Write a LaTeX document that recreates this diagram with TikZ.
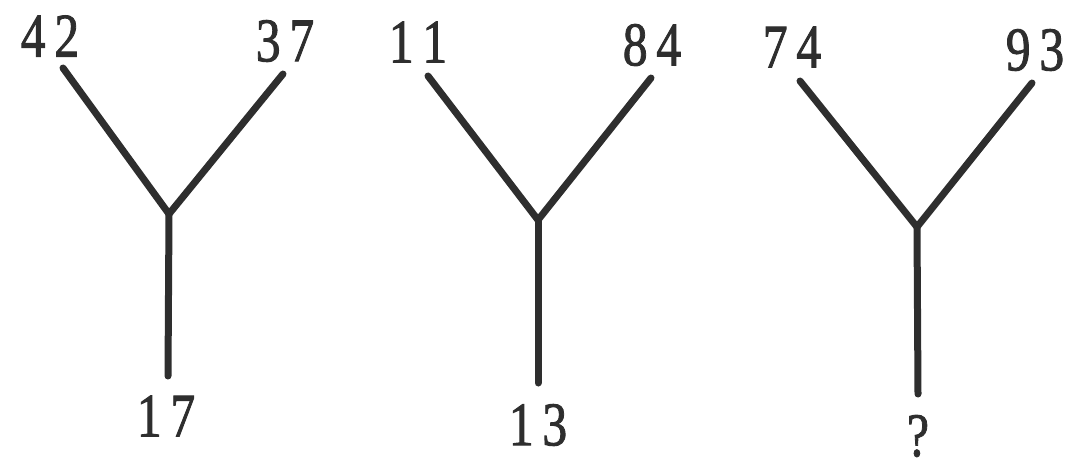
\documentclass[tikz,border=0pt]{standalone}
\usepackage{fontspec}
\setmainfont{Liberation Serif}
\newfontfamily\numfont[FakeBold=1.6]{Liberation Serif}
\definecolor{ink}{HTML}{2E2E2E}
\begin{document}
\begin{tikzpicture}[x=1pt,y=-1pt,
  num/.style={inner sep=0pt, text=ink, font=\fontsize{62}{62}\numfont, xscale=0.8},
  arm/.style={draw=ink, line width=7pt, line cap=round}]
\useasboundingbox (0,0) rectangle (1068,469);
% first Y
\node[num] (t1) at (50,36) {4\kern11pt2};
\node[num] (u1) at (285,41) {3\kern11pt7};
\node[num] (v1) at (166,416) {1\kern11pt7};
\coordinate (a1) at (63,68);
\coordinate (b1) at (283,74);
\coordinate (j1) at (169,214);
\coordinate (s1) at (168,376);
\draw[arm] (a1) -- (j1) -- (b1);
\draw[arm] (j1) -- (s1);
% second Y
\node[num] (t2) at (418,42) {1\kern11pt1};
\node[num] (u2) at (652,45) {8\kern11pt4};
\node[num] (v2) at (538,425) {1\kern11pt3};
\coordinate (a2) at (428,76);
\coordinate (b2) at (651,78);
\coordinate (j2) at (538,220);
\coordinate (s2) at (538,383);
\draw[arm] (a2) -- (j2) -- (b2);
\draw[arm] (j2) -- (s2);
% third Y
\node[num] (t3) at (792,47) {7\kern11pt4};
\node[num] (u3) at (1035,50) {9\kern11pt3};
\node[num] (v3) at (918,436) {?};
\coordinate (a3) at (800,81);
\coordinate (b3) at (1032,83);
\coordinate (j3) at (917,227);
\coordinate (s3) at (918,394);
\draw[arm] (a3) -- (j3) -- (b3);
\draw[arm] (j3) -- (s3);
\end{tikzpicture}
\end{document}
